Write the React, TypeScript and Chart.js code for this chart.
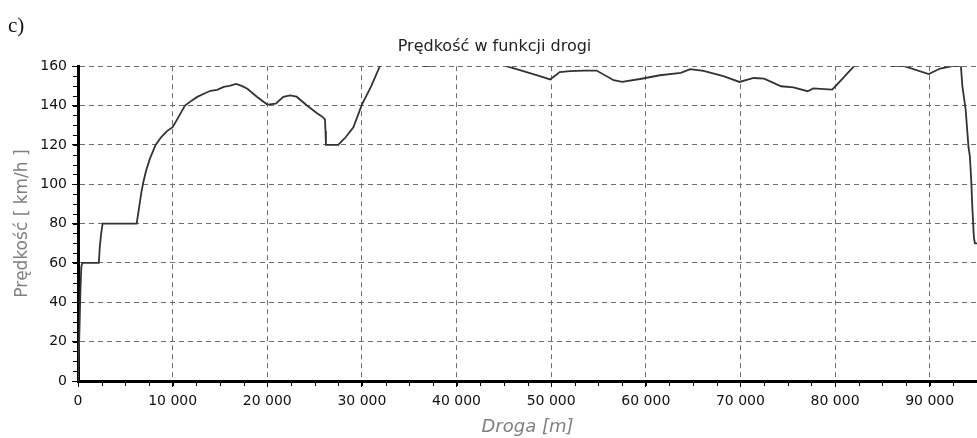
import React, { useEffect, useRef } from "react";
import { Chart, registerables } from "chart.js";

Chart.register(...registerables);

// Distance along the route [m]
const distance: number[] = [
  0, 150, 250, 350, 450, 2200, 2300, 2450, 2600, 6200,
  6450, 6700, 6900, 7200, 7600, 8200, 8800, 9400, 10000, 10600,
  11300, 12000, 12600, 13300, 14000, 14700, 15400, 16000, 16700, 17300,
  17900, 18900, 20000, 20900, 21700, 22400, 23100, 24200, 25300, 25900,
  26100, 26150, 26200, 27500, 28300, 29100, 30000, 31000, 31900, 32500,
  36200, 36600, 37200, 37600, 44500, 45300, 46700, 48800, 49900, 50900,
  52000, 53500, 54800, 56600, 57500, 59400, 61500, 63700, 64700, 66100,
  68200, 69900, 71400, 72500, 74300, 75600, 77100, 77700, 79700, 80300,
  82000, 82500, 85500, 86100, 87300, 89900, 91100, 92400, 93300, 93450,
  93800, 94100, 94250, 94400, 94500, 94670, 94780, 95000,
];

// Speed [km/h]
const speed: number[] = [
  0, 25, 45, 58, 60, 60, 68, 75, 80, 80,
  88, 96, 101, 107, 113, 120, 124, 127, 129, 134,
  140, 142.5, 144.4, 146, 147.5, 148, 149.5, 150, 151, 150,
  148.5, 144.5, 140.5, 141, 144.4, 145.2, 144.5, 140, 136, 134,
  133, 127, 120, 120, 124, 129, 140.5, 150, 160, 165,
  165, 160, 160, 165, 165, 160, 158, 155, 153.3, 157,
  157.5, 157.8, 157.8, 152.9, 152, 153.5, 155.4, 156.6, 158.5, 157.6,
  154.9, 152, 154, 153.7, 149.8, 149.2, 147.3, 148.7, 148.1, 151.2,
  160, 165, 165, 160, 160, 156, 158.8, 160, 160, 150,
  138, 119, 114, 101, 89, 73, 70, 70,
];

const xTicks: number[] = [0, 10000, 20000, 30000, 40000, 50000, 60000, 70000, 80000, 90000];
const yTicks: number[] = [0, 20, 40, 60, 80, 100, 120, 140, 160];
const X_MIN = 0;
const X_MAX = 95000;
const X_MINOR = 2500;
const Y_MIN = 0;
const Y_MAX = 160;
const Y_MINOR = 5;

const TITLE = "Prędkość w funkcji drogi";
const X_TITLE = "Droga [m]";
const Y_TITLE = "Prędkość [ km/h ]";
const PANEL = "c)";

const fmt = (v: number) => String(v).replace(/\B(?=(\d{3})+(?!\d))/g, " ");

const minorTicks = {
  id: "minorTicks",
  afterDraw(chart: any) {
    const { ctx, chartArea } = chart;
    const xs = chart.scales.x;
    const ys = chart.scales.y;
    ctx.save();
    ctx.strokeStyle = "#000";
    ctx.lineWidth = 1;
    ctx.beginPath();
    for (let v = X_MIN; v <= X_MAX; v += X_MINOR) {
      const px = Math.round(xs.getPixelForValue(v)) + 0.5;
      ctx.moveTo(px, chartArea.bottom);
      ctx.lineTo(px, chartArea.bottom + 5);
    }
    for (let v = Y_MIN; v <= Y_MAX; v += Y_MINOR) {
      const py = Math.round(ys.getPixelForValue(v)) + 0.5;
      ctx.moveTo(chartArea.left - 5, py);
      ctx.lineTo(chartArea.left, py);
    }
    ctx.stroke();
    ctx.restore();
  },
};

export default function App() {
  const ref = useRef<HTMLCanvasElement | null>(null);

  useEffect(() => {
    if (!ref.current) return;
    Chart.defaults.font.family = "'DejaVu Sans', sans-serif";
    const points = distance.map((d, i) => ({ x: d, y: speed[i] }));
    const chart = new Chart(ref.current, {
      type: "line",
      data: {
        datasets: [
          {
            data: points,
            borderColor: "#333333",
            borderWidth: 1.8,
            pointRadius: 0,
            tension: 0,
            fill: false,
          },
        ],
      },
      plugins: [minorTicks],
      options: {
        animation: false,
        responsive: false,
        devicePixelRatio: 1,
        layout: { padding: { left: 12, right: 0, top: 0, bottom: 0 } },
        plugins: {
          legend: { display: false },
          tooltip: { enabled: false },
          title: {
            display: true,
            text: TITLE,
            color: "#222",
            font: { size: 16, weight: "normal" },
            padding: { top: 37, bottom: 10 },
          },
        },
        scales: {
          x: {
            type: "linear",
            min: X_MIN,
            max: X_MAX,
            afterFit: (s: any) => {
              s.height = 57;
            },
            afterBuildTicks: (s: any) => {
              s.ticks = xTicks.map((v) => ({ value: v }));
            },
            ticks: {
              includeBounds: false,
              color: "#111",
              font: { size: 14 },
              padding: 6,
              maxRotation: 0,
              autoSkip: false,
              callback: (v: any) => fmt(Number(v)),
            },
            grid: {
              color: "#6e6e6e",
              lineWidth: 1,
              tickColor: "#000",
              tickLength: 6,
            },
            border: { display: true, color: "#000", width: 3, dash: [5, 4] },
            title: {
              display: true,
              text: X_TITLE,
              color: "#808080",
              font: { size: 18, style: "italic" },
              padding: { top: 0, bottom: 0 },
            },
          },
          y: {
            type: "linear",
            min: Y_MIN,
            max: Y_MAX,
            afterFit: (s: any) => {
              s.width = 66;
            },
            afterBuildTicks: (s: any) => {
              s.ticks = yTicks.map((v) => ({ value: v }));
            },
            ticks: {
              color: "#111",
              font: { size: 14 },
              padding: 5,
              autoSkip: false,
            },
            grid: {
              color: "#6e6e6e",
              lineWidth: 1,
              tickColor: "#000",
              tickLength: 6,
            },
            border: { display: true, color: "#000", width: 3, dash: [5, 4] },
            title: {
              display: true,
              text: Y_TITLE,
              color: "#808080",
              font: { size: 17 },
              padding: { top: 0, bottom: 0 },
            },
          },
        },
      },
    } as any);
    return () => chart.destroy();
  }, []);

  return (
    <div style={{ position: "fixed", left: 0, top: 0, width: 977, height: 438, background: "#fff" }}>
      <canvas ref={ref} width={977} height={438} style={{ display: "block" }} />
      <div
        style={{
          position: "absolute",
          left: 8,
          top: 15,
          fontFamily: "'Liberation Serif', 'Times New Roman', serif",
          fontSize: 21,
          lineHeight: 1,
          color: "#111",
        }}
      >
        {PANEL}
      </div>
    </div>
  );
}
